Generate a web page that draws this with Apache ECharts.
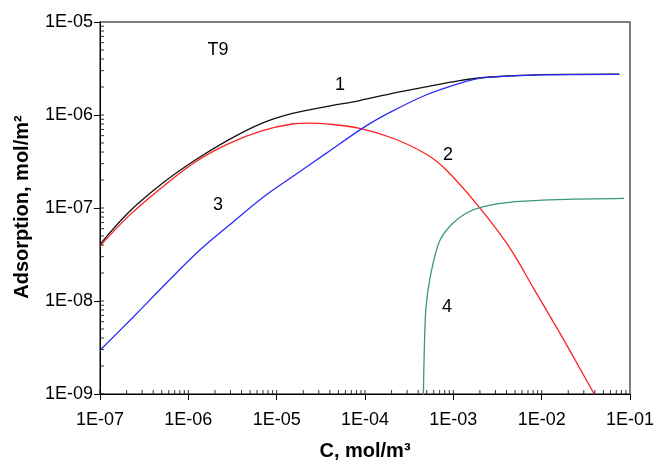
<!DOCTYPE html>
<html>
<head>
<meta charset="utf-8">
<script src="https://cdn.jsdelivr.net/npm/echarts@6/dist/echarts.min.js"></script>
<style>
  html, body { margin: 0; padding: 0; background: #fff; }
  #chart { width: 657px; height: 462px; }
</style>
</head>
<body>
<div id="chart"></div>
<script>
// curve 1 (total, black)
const c1X = [1e-7, 2.09e-7, 5.01e-7, 1.175e-6, 2.82e-6, 6.76e-6, 1.51e-5, 3.63e-5, 8.71e-5, 2.04e-4, 4.90e-4, 1.175e-3, 1.95e-3, 4.27e-3, 1e-2, 7.59e-2];
const c1Y = [4.07e-8, 8.91e-8, 1.82e-7, 3.24e-7, 5.37e-7, 8.13e-7, 1.04e-6, 1.23e-6, 1.43e-6, 1.71e-6, 2.01e-6, 2.34e-6, 2.50e-6, 2.63e-6, 2.72e-6, 2.75e-6];
// curve 2 (red)
const c2X = [1e-7, 2.09e-7, 5.01e-7, 1.175e-6, 2.82e-6, 6.76e-6, 1.51e-5, 2.34e-5, 3.63e-5, 8.71e-5, 2.04e-4, 4.90e-4, 8.32e-4, 1.95e-3, 4.27e-3, 8.51e-3, 1.86e-2, 3.89e-2, 4.47e-2];
const c2Y = [3.89e-8, 8.13e-8, 1.66e-7, 3.09e-7, 4.90e-7, 6.76e-7, 8.00e-7, 8.17e-7, 8.04e-7, 7.19e-7, 5.66e-7, 3.81e-7, 2.56e-7, 1.03e-7, 3.84e-8, 1.26e-8, 3.55e-9, 1.02e-9, 8.13e-10];
// curve 3 (blue)
const c3X = [1e-7, 2.40e-7, 5.62e-7, 1.35e-6, 3.24e-6, 7.59e-6, 1.82e-5, 3.63e-5, 1.02e-4, 2.04e-4, 4.90e-4, 1.175e-3, 1.95e-3, 4.27e-3, 1e-2, 7.59e-2];
const c3Y = [2.95e-9, 6.78e-9, 1.55e-8, 3.53e-8, 7.13e-8, 1.38e-7, 2.45e-7, 3.87e-7, 7.59e-7, 1.10e-6, 1.64e-6, 2.19e-6, 2.48e-6, 2.62e-6, 2.70e-6, 2.74e-6];
// curve 4 (green)
const c4X = [4.56e-4, 4.58e-4, 4.70e-4, 4.91e-4, 5.58e-4, 6.95e-4, 9.42e-4, 1.39e-3, 2.14e-3, 5.11e-3, 1.875e-2, 8.55e-2];
const c4Y = [8.0e-10, 1e-9, 3.24e-9, 8.69e-9, 1.99e-8, 4.35e-8, 6.56e-8, 8.77e-8, 1.03e-7, 1.17e-7, 1.24e-7, 1.27e-7];

// short inside ticks at 1..9 of every decade
const xTickVals = [];
for (let n = -7; n <= -2; n++) for (let k = 1; k <= 9; k++) xTickVals.push(k * Math.pow(10, n));
const yTickVals = [];
for (let n = -9; n <= -6; n++) for (let k = 1; k <= 9; k++) yTickVals.push(k * Math.pow(10, n));

const FONT = "'Liberation Sans', Arial, sans-serif";

const zip = (xs, ys) => xs.map((x, i) => [x, ys[i]]);

function expLabel(v) {
  const e = Math.round(Math.log10(v));
  const a = Math.abs(e);
  return '1E' + (e < 0 ? '-' : '+') + (a < 10 ? '0' + a : a);
}

const chart = echarts.init(document.getElementById('chart'));

const lineSeries = (data, color, smooth) => ({
  type: 'line',
  data: data,
  showSymbol: false,
  symbol: 'none',
  smooth: smooth,
  lineStyle: { color: color, width: 1.3 },
  silent: true
});

// tick marks drawn as tiny rect symbols on the frame
const tickSeries = (data, size, offset) => ({
  type: 'scatter',
  data: data,
  symbol: 'rect',
  symbolSize: size,
  symbolOffset: offset,
  itemStyle: { color: '#000' },
  clip: false,
  silent: true,
  z: 5
});

const txt = (x, y, s) => ({
  type: 'text', x: x, y: y, silent: true,
  style: { text: s, fontSize: 18, fontFamily: FONT, fill: '#000', align: 'center', verticalAlign: 'middle' }
});

chart.setOption({
  animation: false,
  grid: {
    left: 100, right: 26, top: 22, bottom: 68,
    show: true, borderColor: '#555', borderWidth: 1.5, backgroundColor: 'transparent'
  },
  xAxis: {
    type: 'log', logBase: 10, min: 1e-7, max: 1e-1,
    axisLine: { lineStyle: { color: '#000', width: 1 } },
    axisTick: { inside: false, length: 6, lineStyle: { color: '#000' } },
    axisLabel: { formatter: expLabel, color: '#000', fontSize: 18, fontFamily: FONT, margin: 17 },
    splitLine: { show: false }
  },
  yAxis: {
    type: 'log', logBase: 10, min: 1e-9, max: 1e-5,
    axisLine: { lineStyle: { color: '#000', width: 1 } },
    axisTick: { inside: false, length: 6, lineStyle: { color: '#000' } },
    axisLabel: { formatter: expLabel, color: '#000', fontSize: 18, fontFamily: FONT, margin: 7 },
    splitLine: { show: false }
  },
  series: [
    lineSeries(zip(c1X, c1Y), '#111111', 0.35),
    lineSeries(zip(c2X, c2Y), '#ff2020', 0.35),
    lineSeries(zip(c4X, c4Y), '#3a9a70', 0.25),
    lineSeries(zip(c3X, c3Y), '#2a2aff', 0.35),
    tickSeries(xTickVals.map(v => [v, 1e-9]), [1, 4], [0, -2]),
    tickSeries(yTickVals.map(v => [1e-7, v]), [4, 1], [2, 0])
  ],
  graphic: [
    txt(218, 50, 'T9'),
    txt(340, 85, '1'),
    txt(448, 155, '2'),
    txt(218, 205, '3'),
    txt(447, 307, '4'),
    // axis titles
    { type: 'text', x: 365, y: 451, silent: true, style: { text: 'C, mol/m³', fontSize: 20, fontWeight: 'bold', fontFamily: FONT, fill: '#000', align: 'center', verticalAlign: 'middle' } },
    { type: 'text', x: 22, y: 207, rotation: Math.PI / 2, silent: true, style: { text: 'Adsorption, mol/m²', fontSize: 20, fontWeight: 'bold', fontFamily: FONT, fill: '#000', align: 'center', verticalAlign: 'middle' } }
  ]
});
</script>
</body>
</html>
